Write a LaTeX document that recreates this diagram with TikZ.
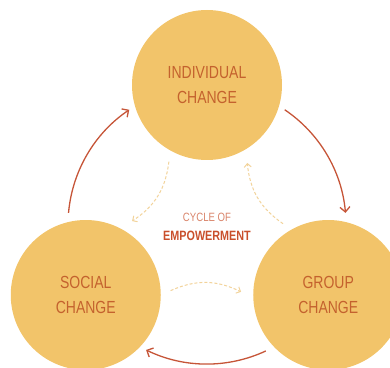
\documentclass[tikz,border=0pt]{standalone}
\usepackage{fontspec}
\newfontfamily\cfont{Liberation Sans}[FakeStretch=0.8]
\usetikzlibrary{arrows.meta,calc}
\definecolor{circ}{HTML}{F2C46A}
\definecolor{ctext}{HTML}{C4622E}
\definecolor{arr}{HTML}{C65538}
\definecolor{dashc}{HTML}{F2D39A}
\definecolor{cyc}{HTML}{D9846A}
\definecolor{emp}{HTML}{C94F2C}
\begin{document}
\begin{tikzpicture}[x=1pt,y=1pt,
  stage/.style={circle,fill=circ,minimum size=150pt,inner sep=0pt,text=ctext,
    font=\cfont\fontsize{17.5}{25.8}\selectfont,align=center},
  solidarr/.style={draw=arr,line width=1.3pt,-{Straight Barb[length=5pt,width=10pt]}},
  dasharr/.style={draw=dashc,line width=1pt,dash pattern=on 3pt off 2pt,-{Straight Barb[length=3.5pt,width=7pt]}},
  midtext/.style={inner sep=0pt}]
\useasboundingbox (0,0) rectangle (390,367);
\clip (0,0) rectangle (390,367);
\coordinate (C) at (207,142);
\node[stage] (ind) at ($(C)+(90:140)$) {INDIVIDUAL\\CHANGE};
\node[stage] (soc) at ($(C)+(210:140)$) {SOCIAL\\CHANGE};
\node[stage] (grp) at ($(C)+(330:140)$) {GROUP\\CHANGE};
% solid outer arcs (clockwise)
\coordinate (a1) at ($(C)+(175:139)$);
\coordinate (a2) at ($(C)+(56:139)$);
\coordinate (a3) at ($(C)+(295:139)$);
\draw[solidarr] (a1) arc[start angle=175,end angle=124,radius=139];
\draw[solidarr] (a2) arc[start angle=56,end angle=5,radius=139];
\draw[solidarr] (a3) arc[start angle=295,end angle=244,radius=139];
% dashed inner arrows (counterclockwise)
\coordinate (d1s) at ($(C)+(121:74)$);
\coordinate (d1e) at ($(C)+(177:75)$);
\coordinate (d2s) at ($(C)+(1:76)$);
\coordinate (d2e) at ($(C)+(57:74)$);
\coordinate (d3s) at ($(C)+(241:75)$);
\coordinate (d3e) at ($(C)+(297:75)$);
\draw[dasharr] (d1s) to[bend left=25] (d1e);
\draw[dasharr] (d2s) to[bend left=25] (d2e);
\draw[dasharr] (d3s) to[bend left=25] (d3e);
\node[midtext,text=cyc,font=\cfont\fontsize{12}{14}\selectfont] (cycle) at (207,149.5) {CYCLE OF};
\node[midtext,text=emp,font=\cfont\bfseries\fontsize{13.5}{16}\selectfont] (emp) at (207,131.5) {EMPOWERMENT};
\end{tikzpicture}
\end{document}
